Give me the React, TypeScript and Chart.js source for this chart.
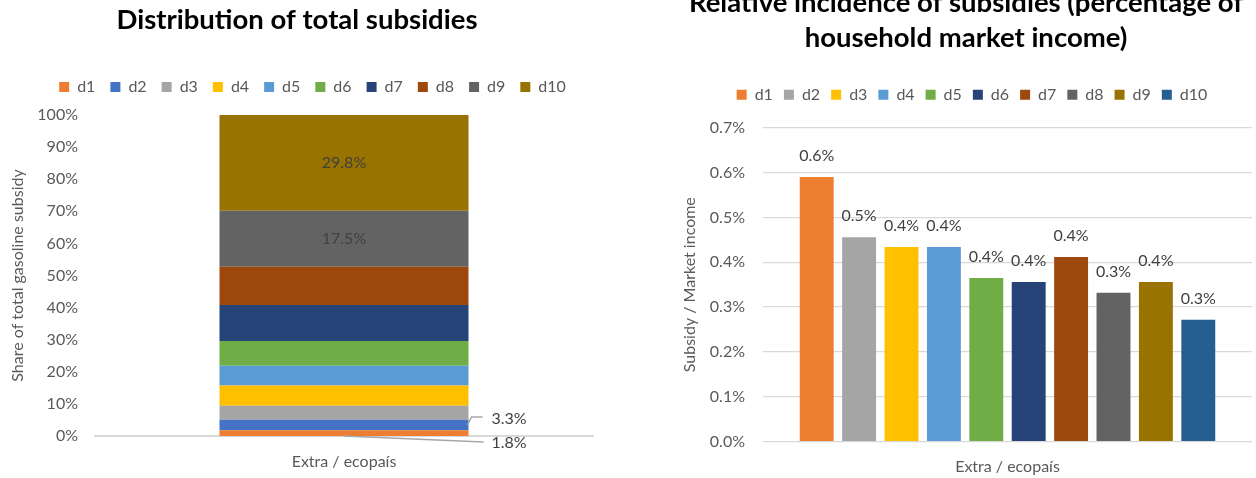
import React, { useEffect, useRef } from 'react';
import { Chart, registerables } from 'chart.js';

Chart.register(...registerables);

const FONT = 'Lato, "Open Sans", sans-serif';
const TEXT = '#595959';
const LABEL = '#404040';
const GRID = '#d9d9d9';

// ---- data ----
const category = ['Extra / ecopaís'];
const deciles = ['d1', 'd2', 'd3', 'd4', 'd5', 'd6', 'd7', 'd8', 'd9', 'd10'];
const shareOfSubsidy = [1.8, 3.3, 4.3, 6.3, 6.2, 7.7, 11.2, 11.9, 17.5, 29.8];
const incidence = [0.59, 0.456, 0.434, 0.434, 0.365, 0.356, 0.412, 0.332, 0.356, 0.272];
const shareAxisMax = 100;
const shareAxisStep = 10;
const incidenceAxisMax = 0.7;
const incidenceAxisStep = 0.1;
const leftTitle = 'Distribution of total subsidies';
const rightTitle = ['Relative incidence of subsidies (percentage of', 'household market income)'];
const leftYTitle = 'Share of total gasoline subsidy';
const rightYTitle = 'Subsidy / Market income';

// ---- styles ----
const shareColors = ['#ED7D31', '#4472C4', '#A5A5A5', '#FFC000', '#5B9BD5', '#70AD47', '#264478', '#9E480E', '#636363', '#997300'];
const incidenceColors = ['#ED7D31', '#A5A5A5', '#FFC000', '#5B9BD5', '#70AD47', '#264478', '#9E480E', '#636363', '#997300', '#255E91'];
// label mode for each share dataset
const shareLabelMode = ['lower', 'upper', 'none', 'none', 'none', 'none', 'none', 'none', 'inside', 'inside'];

const makeLegendTweak = (extra: number, dx: number) => ({
  id: 'legendTweak',
  beforeInit(chart: any) {
    const legend = chart.legend;
    if (!legend) return;
    const fit = legend.fit;
    legend.fit = function () {
      fit.call(this);
      this.height += extra;
    };
    const draw = legend.draw;
    legend.draw = function () {
      this.left += dx;
      this.right += dx;
      draw.call(this);
      this.left -= dx;
      this.right -= dx;
    };
  },
});

const leftTitlePlugin = {
  id: 'leftTitlePlugin',
  afterDraw(chart: any) {
    const ctx = chart.ctx;
    ctx.save();
    ctx.font = `bold 27.5px ${FONT}`;
    ctx.fillStyle = '#000';
    ctx.textAlign = 'center';
    ctx.textBaseline = 'middle';
    ctx.fillText(leftTitle, chart.width * 0.479, 20);
    ctx.restore();
  },
};

const shareLabelsPlugin = {
  id: 'shareLabels',
  afterDatasetsDraw(chart: any) {
    const ctx = chart.ctx;
    ctx.save();
    ctx.font = `16px ${FONT}`;
    ctx.fillStyle = LABEL;
    ctx.textBaseline = 'middle';
    ctx.strokeStyle = '#a6a6a6';
    ctx.lineWidth = 1.5;
    chart.data.datasets.forEach((ds: any, i: number) => {
      const mode = shareLabelMode[i];
      if (mode === 'none') return;
      const bar = chart.getDatasetMeta(i).data[0];
      const { x, y, base, width } = bar.getProps(['x', 'y', 'base', 'width'], true);
      const text = ds.data[0].toFixed(1) + '%';
      const right = x + width / 2;
      const mid = (y + base) / 2;
      if (mode === 'inside') {
        ctx.textAlign = 'center';
        ctx.fillText(text, x, mid);
      } else if (mode === 'upper') {
        ctx.beginPath();
        ctx.moveTo(right - 1, mid);
        ctx.lineTo(right + 3, mid - 8);
        ctx.lineTo(right + 14, mid - 8);
        ctx.stroke();
        ctx.textAlign = 'left';
        ctx.fillText(text, right + 23, mid - 6);
      } else if (mode === 'lower') {
        ctx.beginPath();
        ctx.moveTo(x, base);
        ctx.lineTo(right + 15, base + 6);
        ctx.stroke();
        ctx.textAlign = 'left';
        ctx.fillText(text, right + 23, base + 7);
      }
    });
    ctx.restore();
  },
};

const incidenceLabelsPlugin = {
  id: 'incidenceLabels',
  afterDatasetsDraw(chart: any) {
    const ctx = chart.ctx;
    ctx.save();
    ctx.font = `16px ${FONT}`;
    ctx.fillStyle = LABEL;
    ctx.textBaseline = 'middle';
    ctx.textAlign = 'center';
    chart.data.datasets.forEach((ds: any, i: number) => {
      const bar = chart.getDatasetMeta(i).data[0];
      const { x, y } = bar.getProps(['x', 'y'], true);
      ctx.fillText(ds.data[0].toFixed(1) + '%', x, y - 21);
    });
    ctx.restore();
  },
};

const legendOpts = (padding: number) => ({
  labels: {
    boxWidth: 10,
    boxHeight: 10,
    padding,
    color: TEXT,
    font: { size: 16, family: FONT },
  },
});

function leftConfig(): any {
  return {
    type: 'bar',
    data: {
      labels: category,
      datasets: deciles.map((d, i) => ({
        label: d,
        data: [shareOfSubsidy[i]],
        backgroundColor: shareColors[i],
        barPercentage: 0.5,
        categoryPercentage: 1,
      })),
    },
    options: {
      responsive: false,
      animation: false,
      layout: { padding: { top: 64, right: 27, bottom: 0, left: 0 } },
      plugins: {
        title: { display: false },
        legend: legendOpts(15),
        tooltip: { enabled: false },
      },
      scales: {
        x: {
          stacked: true,
          grid: { display: false, drawTicks: false },
          border: { display: true, color: GRID, width: 2 },
          ticks: { color: TEXT, font: { size: 16, family: FONT }, padding: 16 },
          afterFit: (s: any) => {
            s.height = 42;
          },
        },
        y: {
          stacked: true,
          min: 0,
          max: shareAxisMax,
          grid: { display: false, drawTicks: false },
          border: { display: false },
          ticks: {
            stepSize: shareAxisStep,
            color: TEXT,
            font: { size: 16, family: FONT },
            padding: 17,
            callback: (v: number) => v + '%',
          },
          title: {
            display: true,
            text: leftYTitle,
            color: TEXT,
            font: { size: 16, family: FONT },
            padding: { top: 8, bottom: 0 },
          },
          afterFit: (s: any) => {
            s.width = 95;
          },
        },
      },
    },
    plugins: [makeLegendTweak(10, 16), shareLabelsPlugin, leftTitlePlugin],
  };
}

function rightConfig(): any {
  return {
    type: 'bar',
    data: {
      labels: category,
      datasets: deciles.map((d, i) => ({
        label: d,
        data: [incidence[i]],
        backgroundColor: incidenceColors[i],
        barPercentage: 0.8,
        categoryPercentage: 0.867,
      })),
    },
    options: {
      responsive: false,
      animation: false,
      layout: { padding: { top: 0, right: 10, bottom: 0, left: 0 } },
      plugins: {
        title: {
          display: true,
          text: rightTitle,
          color: '#000',
          font: { size: 27.5, weight: 'bold', family: FONT, lineHeight: 1.273 },
          padding: { top: 6, bottom: 19.7 },
        },
        legend: legendOpts(11),
        tooltip: { enabled: false },
      },
      scales: {
        x: {
          grid: { display: false, drawTicks: false },
          border: { display: false },
          ticks: { color: TEXT, font: { size: 16, family: FONT }, padding: 15.4 },
          afterFit: (s: any) => {
            s.height = 36.3;
          },
        },
        y: {
          min: 0,
          max: incidenceAxisMax,
          grid: { color: GRID, lineWidth: 1.3, drawTicks: false },
          border: { display: false },
          ticks: {
            stepSize: incidenceAxisStep,
            color: TEXT,
            font: { size: 16, family: FONT },
            padding: 18,
            callback: (v: number) => v.toFixed(1) + '%',
          },
          title: {
            display: true,
            text: rightYTitle,
            color: TEXT,
            font: { size: 16, family: FONT },
            padding: { top: 0, bottom: 0 },
          },
          afterFit: (s: any) => {
            s.width = 83;
          },
        },
      },
    },
    plugins: [makeLegendTweak(15, 6), incidenceLabelsPlugin],
  };
}

function ChartCanvas({ make, left, top, width, height }: any) {
  const ref = useRef<HTMLCanvasElement | null>(null);
  useEffect(() => {
    if (!ref.current) return;
    const c = new Chart(ref.current, make());
    return () => c.destroy();
  }, []);
  return (
    <canvas
      ref={ref}
      width={width}
      height={height}
      style={{ position: 'absolute', left, top, width, height }}
    />
  );
}

export default function App() {
  Chart.defaults.font.family = FONT;
  return (
    <div
      style={{
        position: 'fixed',
        left: 0,
        top: 0,
        width: 1256,
        height: 478,
        overflow: 'hidden',
        background: '#fff',
      }}
    >
      <ChartCanvas make={leftConfig} left={0} top={0} width={620} height={478} />
      <ChartCanvas make={rightConfig} left={680} top={-20} width={582} height={498} />
    </div>
  );
}
